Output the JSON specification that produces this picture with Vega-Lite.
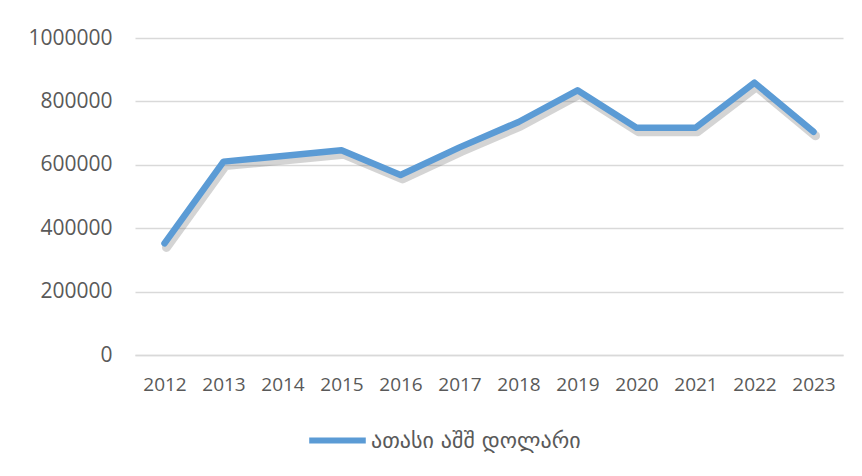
{
  "$schema": "https://vega.github.io/schema/vega-lite/v6.json",
  "width": 708,
  "height": 317,
  "autosize": {"type": "none"},
  "padding": {"left": 135, "top": 38, "right": 19, "bottom": 121},
  "background": "white",
  "config": {"view": {"stroke": null}, "font": "Open Sans"},
  "data": {
    "values": [
      {"year": "2012", "value": 352000, "series": "ათასი აშშ დოლარი"},
      {"year": "2013", "value": 610000, "series": "ათასი აშშ დოლარი"},
      {"year": "2014", "value": 628000, "series": "ათასი აშშ დოლარი"},
      {"year": "2015", "value": 646000, "series": "ათასი აშშ დოლარი"},
      {"year": "2016", "value": 568000, "series": "ათასი აშშ დოლარი"},
      {"year": "2017", "value": 655000, "series": "ათასი აშშ დოლარი"},
      {"year": "2018", "value": 735000, "series": "ათასი აშშ დოლარი"},
      {"year": "2019", "value": 835000, "series": "ათასი აშშ დოლარი"},
      {"year": "2020", "value": 717000, "series": "ათასი აშშ დოლარი"},
      {"year": "2021", "value": 717000, "series": "ათასი აშშ დოლარი"},
      {"year": "2022", "value": 859000, "series": "ათასი აშშ დოლარი"},
      {"year": "2023", "value": 704000, "series": "ათასი აშშ დოლარი"}
    ]
  },
  "encoding": {
    "x": {
      "field": "year", "type": "ordinal", "scale": {"padding": 0.5},
      "axis": {"title": null, "labelAngle": 0, "ticks": false, "domainColor": "#d9d9d9", "domainWidth": 1.3, "labelFontSize": 19, "labelColor": "#595959", "labelPadding": 20, "grid": false}
    },
    "y": {
      "field": "value", "type": "quantitative", "scale": {"domain": [0, 1000000], "nice": false},
      "axis": {"title": null, "values": [0, 200000, 400000, 600000, 800000, 1000000], "format": "d", "domain": false, "ticks": false, "labelFontSize": 21, "labelColor": "#595959", "labelPadding": 23, "gridColor": "#d9d9d9", "gridWidth": 1.3}
    }
  },
  "layer": [
    {
      "mark": {"type": "line", "stroke": "#6f6f6f", "strokeWidth": 9, "opacity": 0.3, "xOffset": 2, "yOffset": 4, "strokeJoin": "round", "strokeCap": "round"}
    },
    {
      "mark": {"type": "line", "strokeWidth": 6.5, "strokeJoin": "round", "strokeCap": "round"},
      "encoding": {
        "color": {
          "field": "series", "type": "nominal", "scale": {"range": ["#5B9BD5"]},
          "legend": {"title": null, "orient": "none", "legendX": 171, "legendY": 371, "symbolType": "stroke", "symbolSize": 3200, "symbolStrokeWidth": 6, "labelFont": "DejaVu Sans", "labelFontSize": 22, "labelColor": "#595959", "labelOffset": 2, "labelLimit": 400}
        }
      }
    }
  ]
}
